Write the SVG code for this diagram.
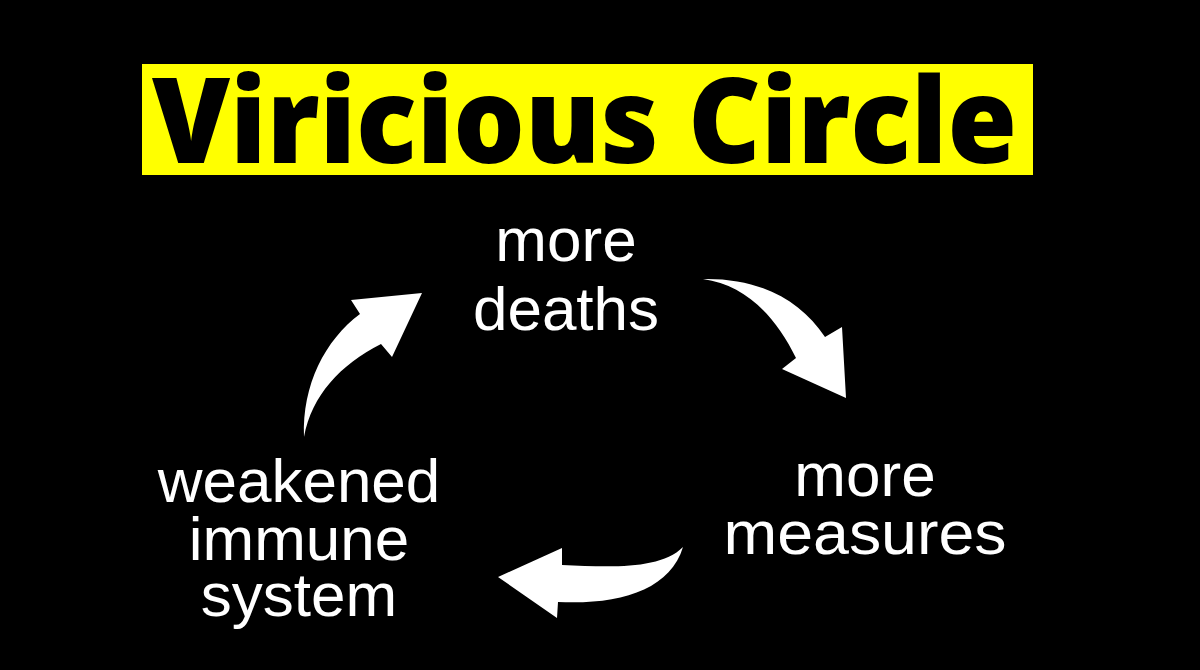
<svg xmlns="http://www.w3.org/2000/svg" width="1200" height="670" viewBox="0 0 1200 670">
<style>
.lbl{font-family:"Liberation Sans",Arial,sans-serif;font-size:62px;fill:#fff;text-anchor:middle}
.title{font-family:"Open Sans","DejaVu Sans",sans-serif;font-weight:800;font-size:118px;fill:#000}
.arr{fill:#fff}
</style>
<rect x="0" y="0" width="1200" height="670" fill="#000"/>
<g id="title">
<rect x="142" y="64" width="891" height="111" fill="#ffff00"/>
<text class="title" x="152" y="163" textLength="865" lengthAdjust="spacingAndGlyphs">Viricious Circle</text>
</g>
<g id="node-deaths">
<text class="lbl" x="566" y="261">more</text>
<text class="lbl" x="566" y="330">deaths</text>
</g>
<g id="node-measures">
<text class="lbl" x="865" y="496">more</text>
<text class="lbl" x="865" y="554" textLength="283" lengthAdjust="spacingAndGlyphs">measures</text>
</g>
<g id="node-immune">
<text class="lbl" x="299" y="502">weakened</text>
<text class="lbl" x="299" y="560">immune</text>
<text class="lbl" x="299" y="616">system</text>
</g>
<g id="connectors">
<path class="arr" d="M304,437 C302,385 325,340 360,314 L351,300 L422,293 L392,357 L381,344 C340,365 312,395 304,437 Z"/>
<path class="arr" d="M703,279 C760,278 800,300 825,337 L842,327 L846,398 L782,369 L796,358 C775,315 745,285 703,279 Z"/>
<path class="arr" d="M683,547 C660,570 610,567 562,565 L562,548 L498,577 L557,618 L558,602 C620,605 670,590 683,547 Z"/>
</g>
</svg>
